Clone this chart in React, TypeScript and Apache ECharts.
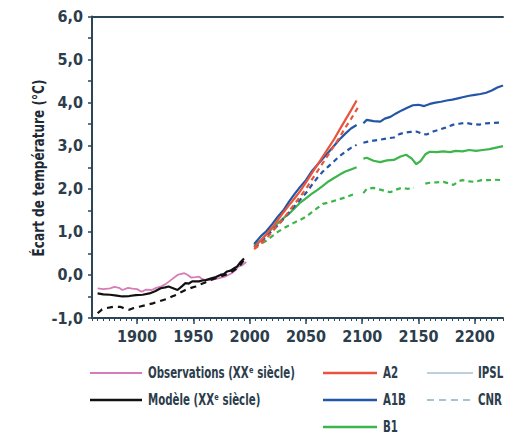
import React, { useEffect, useRef } from "react";
import * as echarts from "echarts";

const yTicks = [-1, 0, 1, 2, 3, 4, 5, 6];
const xTickLabels = [1900, 1950, 2000, 2050, 2100, 2150, 2200];

const observations: [number, number][] = [
  [1865, -0.31], [1870, -0.33], [1876, -0.31], [1880, -0.28], [1884, -0.3], [1887, -0.35],
  [1892, -0.3], [1896, -0.32], [1900, -0.33], [1904, -0.39], [1908, -0.34], [1913, -0.35],
  [1917, -0.3], [1921, -0.27], [1925, -0.22], [1930, -0.12], [1936, 0.0], [1942, 0.04],
  [1945, 0.0], [1948, -0.06], [1952, -0.05], [1955, -0.04], [1958, -0.1], [1961, -0.12],
  [1966, -0.12], [1969, -0.1], [1972, -0.08], [1978, -0.04], [1981, 0.0], [1984, 0.04],
  [1987, 0.1], [1990, 0.19], [1993, 0.22], [1997, 0.3],
];

const modelSolid: [number, number][] = [
  [1865, -0.43], [1870, -0.45], [1876, -0.46], [1882, -0.48], [1887, -0.5], [1893, -0.49],
  [1899, -0.47], [1905, -0.46], [1911, -0.43], [1916, -0.38], [1921, -0.31], [1925, -0.29],
  [1928, -0.27], [1932, -0.31], [1936, -0.35], [1940, -0.26], [1943, -0.19], [1946, -0.2],
  [1949, -0.15], [1955, -0.15], [1958, -0.13], [1961, -0.12], [1966, -0.08], [1970, -0.05],
  [1974, 0.0], [1977, 0.02], [1980, 0.08], [1983, 0.1], [1986, 0.15], [1989, 0.2],
  [1992, 0.3], [1995, 0.38],
];

const modelDashed: [number, number][] = [
  [1865, -0.89], [1869, -0.8], [1873, -0.77], [1879, -0.74], [1885, -0.74], [1889, -0.78],
  [1893, -0.81], [1897, -0.77], [1902, -0.74], [1908, -0.7], [1914, -0.66], [1920, -0.61],
  [1926, -0.56], [1931, -0.5], [1935, -0.46], [1939, -0.4], [1943, -0.35], [1948, -0.3],
  [1952, -0.27], [1956, -0.22], [1960, -0.18], [1966, -0.11], [1972, -0.06], [1978, 0.0],
  [1983, 0.05], [1988, 0.14], [1992, 0.24], [1995, 0.35],
];

const a2Ipsl: [number, number | null][] = [
  [2004, 0.65], [2010, 0.8], [2015, 0.95], [2020, 1.1], [2025, 1.27], [2030, 1.45],
  [2035, 1.62], [2040, 1.78], [2045, 1.95], [2050, 2.15], [2055, 2.35], [2060, 2.55],
  [2065, 2.75], [2070, 2.95], [2075, 3.15], [2080, 3.38], [2085, 3.6], [2090, 3.82], [2095, 4.05],
];

const a2Cnrm: [number, number | null][] = [
  [2004, 0.6], [2010, 0.72], [2015, 0.85], [2020, 1.0], [2025, 1.15], [2030, 1.3],
  [2035, 1.48], [2040, 1.65], [2045, 1.82], [2050, 2.0], [2055, 2.2], [2060, 2.4],
  [2065, 2.6], [2070, 2.8], [2075, 3.0], [2080, 3.2], [2085, 3.42], [2090, 3.62], [2096, 3.88],
];

const a1bIpsl: [number, number | null][] = [
  [2004, 0.72], [2010, 0.9], [2015, 1.02], [2020, 1.18], [2025, 1.35], [2030, 1.5],
  [2035, 1.7], [2040, 1.88], [2045, 2.05], [2050, 2.2], [2055, 2.4], [2060, 2.55],
  [2065, 2.7], [2070, 2.85], [2075, 3.0], [2080, 3.15], [2085, 3.28], [2090, 3.4], [2095, 3.48],
  [2098, null],
  [2101, 3.52], [2104, 3.6], [2110, 3.57], [2116, 3.56], [2120, 3.63], [2125, 3.67],
  [2130, 3.75], [2135, 3.82], [2140, 3.88], [2145, 3.94], [2150, 3.95], [2155, 3.92],
  [2160, 3.97], [2165, 4.0], [2170, 4.02], [2175, 4.05], [2180, 4.07], [2185, 4.1],
  [2190, 4.13], [2195, 4.16], [2200, 4.18], [2205, 4.2], [2210, 4.23], [2215, 4.28],
  [2220, 4.35], [2225, 4.4],
];

const a1bCnrm: [number, number | null][] = [
  [2004, 0.65], [2010, 0.75], [2015, 0.9], [2020, 1.03], [2025, 1.15], [2030, 1.3],
  [2035, 1.45], [2040, 1.6], [2045, 1.75], [2050, 1.9], [2055, 2.08], [2060, 2.25],
  [2065, 2.4], [2070, 2.52], [2075, 2.64], [2080, 2.76], [2085, 2.86], [2090, 2.95], [2095, 3.02],
  [2098, null],
  [2101, 3.07], [2104, 3.09], [2110, 3.12], [2116, 3.14], [2122, 3.17], [2128, 3.19],
  [2133, 3.27], [2137, 3.3], [2143, 3.32], [2148, 3.33], [2153, 3.28], [2157, 3.26],
  [2163, 3.33], [2168, 3.37], [2174, 3.42], [2181, 3.49], [2186, 3.51], [2192, 3.53],
  [2198, 3.5], [2204, 3.49], [2210, 3.52], [2216, 3.53], [2225, 3.54],
];

const b1Ipsl: [number, number | null][] = [
  [2004, 0.68], [2010, 0.8], [2015, 0.95], [2020, 1.08], [2025, 1.2], [2030, 1.32],
  [2035, 1.42], [2040, 1.55], [2045, 1.68], [2050, 1.78], [2055, 1.88], [2060, 1.97],
  [2065, 2.07], [2070, 2.17], [2075, 2.25], [2080, 2.33], [2085, 2.4], [2090, 2.45], [2095, 2.5],
  [2098, null],
  [2101, 2.7], [2104, 2.72], [2110, 2.65], [2116, 2.62], [2122, 2.66], [2128, 2.67],
  [2134, 2.75], [2139, 2.79], [2144, 2.7], [2148, 2.57], [2152, 2.65], [2156, 2.8],
  [2160, 2.86], [2166, 2.85], [2172, 2.87], [2178, 2.85], [2183, 2.88], [2189, 2.87],
  [2195, 2.9], [2201, 2.88], [2207, 2.9], [2213, 2.92], [2218, 2.95], [2225, 2.99],
];

const b1Cnrm: [number, number | null][] = [
  [2004, 0.65], [2010, 0.72], [2015, 0.8], [2020, 0.9], [2025, 1.0], [2030, 1.08],
  [2035, 1.15], [2040, 1.22], [2045, 1.28], [2050, 1.35], [2055, 1.45], [2060, 1.55],
  [2065, 1.65], [2070, 1.68], [2075, 1.72], [2080, 1.76], [2085, 1.8], [2090, 1.85], [2095, 1.9],
  [2098, null],
  [2101, 1.9], [2104, 2.0], [2110, 2.02], [2116, 1.98], [2120, 1.95], [2125, 1.92],
  [2130, 1.98], [2135, 2.02], [2140, 2.0], [2146, 2.02],
  [2150, null],
  [2156, 2.12], [2160, 2.14], [2166, 2.15], [2172, 2.16], [2178, 2.12], [2181, 2.09],
  [2186, 2.18], [2189, 2.2], [2195, 2.17], [2200, 2.16], [2206, 2.2], [2212, 2.2],
  [2218, 2.21], [2225, 2.2],
];

const legendLeft = ["Observations (XXᵉ siècle)", "Modèle (XXᵉ siècle)"];
const legendScen = ["A2", "A1B", "B1"];
const legendModels = ["IPSL", "CNR"];

const AXIS = "#2b4656";
const TXT = "#2c3d4c";
const FONT = "'DejaVu Sans Condensed', 'DejaVu Sans', sans-serif";
const C_PINK = "#d77cb9";
const C_BLACK = "#111111";
const C_RED = "#e8553c";
const C_BLUE = "#2356a6";
const C_GREEN = "#3cb54a";
const C_MODEL = "#a8c2cf";

export default function App() {
  const ref = useRef<HTMLDivElement>(null);
  useEffect(() => {
    if (!ref.current) return;
    const chart = echarts.init(ref.current, undefined, { renderer: "svg" });
    const line = (name: string, data: any, color: string, dashed: boolean | number[], width = 2) => ({
      name,
      type: "line",
      data,
      showSymbol: false,
      symbol: "none",
      connectNulls: false,
      lineStyle: { color, width, type: dashed === false ? "solid" : dashed },
      z: 3,
    });
    const legendText = (text: string, x: number, y: number) => ({
      type: "text",
      x,
      y,
      scaleX: 0.76,
      style: { text, fill: TXT, font: `bold 15px ${FONT}`, align: "left", verticalAlign: "middle" },
    });
    const legendLine = (x1: number, x2: number, y: number, stroke: string, lineWidth = 2, lineDash?: number[]) => ({
      type: "line",
      shape: { x1, y1: y, x2, y2: y },
      style: { stroke, lineWidth, lineDash },
    });
    const scenColors = [C_RED, C_BLUE, C_GREEN];
    const rows = [373, 400, 427];
    chart.setOption({
      animation: false,
      grid: { left: 92, right: 0, top: 16.5, bottom: 124, containLabel: false },
      xAxis: [
        {
          type: "value",
          min: 1860,
          max: 2225,
          interval: 5,
          position: "bottom",
          axisLine: { show: true, onZero: false, lineStyle: { color: AXIS, width: 2 } },
          axisTick: { show: true, length: 3, lineStyle: { color: AXIS, width: 1 } },
          axisLabel: {
            show: true,
            margin: 10,
            color: TXT,
            fontFamily: FONT,
            fontSize: 16,
            fontWeight: "bold",
            formatter: (v: number) => (xTickLabels.includes(v) ? String(v) : ""),
          },
          splitLine: { show: false },
        },
        {
          type: "value",
          min: 1860,
          max: 2225,
          position: "bottom",
          axisLine: { show: false, onZero: false },
          axisTick: { show: true, length: 6, customValues: xTickLabels, lineStyle: { color: AXIS, width: 1.5 } },
          axisLabel: { show: false },
          splitLine: { show: false },
        },
        {
          type: "value",
          min: 1860,
          max: 2225,
          position: "top",
          axisLine: { show: true, onZero: false, lineStyle: { color: AXIS, width: 2 } },
          axisTick: { show: false },
          axisLabel: { show: false },
          splitLine: { show: false },
        },
      ],
      yAxis: {
        type: "value",
        min: -1,
        max: 6,
        interval: 0.5,
        axisLine: { show: true, lineStyle: { color: AXIS, width: 2 } },
        axisTick: { show: true, length: 4, lineStyle: { color: AXIS, width: 1.5 } },
        axisLabel: {
          margin: 9,
          color: TXT,
          fontFamily: FONT,
          fontSize: 16,
          fontWeight: "bold",
          formatter: (v: number) => (yTicks.includes(v) ? v.toFixed(1).replace(".", ",") : ""),
        },
        splitLine: { show: false },
      },
      graphic: [
        {
          type: "text",
          x: 38,
          y: 168,
          rotation: Math.PI / 2,
          scaleX: 0.84,
          style: {
            text: "Écart de température (°C)",
            fill: "#1e2b36",
            font: `bold 16px ${FONT}`,
            align: "center",
            verticalAlign: "middle",
          },
        },
        legendLine(90, 142, rows[0], C_PINK, 2),
        legendText(legendLeft[0], 148, rows[0]),
        legendLine(90, 142, rows[1], C_BLACK, 2.5),
        legendText(legendLeft[1], 148, rows[1]),
        ...legendScen.flatMap((s, i) => [
          legendLine(323, 377, rows[i], scenColors[i], 2.5),
          legendText(s, 383, rows[i]),
        ]),
        legendLine(427, 473, rows[0], C_MODEL, 1.5),
        legendText(legendModels[0], 478, rows[0]),
        legendLine(427, 473, rows[1], C_MODEL, 2, [7, 5]),
        legendText(legendModels[1], 478, rows[1]),
      ],
      series: [
        line("Observations", observations, C_PINK, false, 1.8),
        line("Modèle CNRM", modelDashed, C_BLACK, [6, 5], 2.2),
        line("Modèle", modelSolid, C_BLACK, false, 2.2),
        line("B1 CNRM", b1Cnrm, C_GREEN, [5, 4], 2.2),
        line("B1 IPSL", b1Ipsl, C_GREEN, false, 2.2),
        line("A1B CNRM", a1bCnrm, C_BLUE, [5, 4], 2.2),
        line("A1B IPSL", a1bIpsl, C_BLUE, false, 2.2),
        line("A2 CNRM", a2Cnrm, C_RED, [5, 4], 2.2),
        line("A2 IPSL", a2Ipsl, C_RED, false, 2.2),
      ],
    });
    return () => chart.dispose();
  }, []);
  return (
    <div
      ref={ref}
      style={{ position: "fixed", left: 0, top: 0, width: 506, height: 442, background: "#fff" }}
    />
  );
}
